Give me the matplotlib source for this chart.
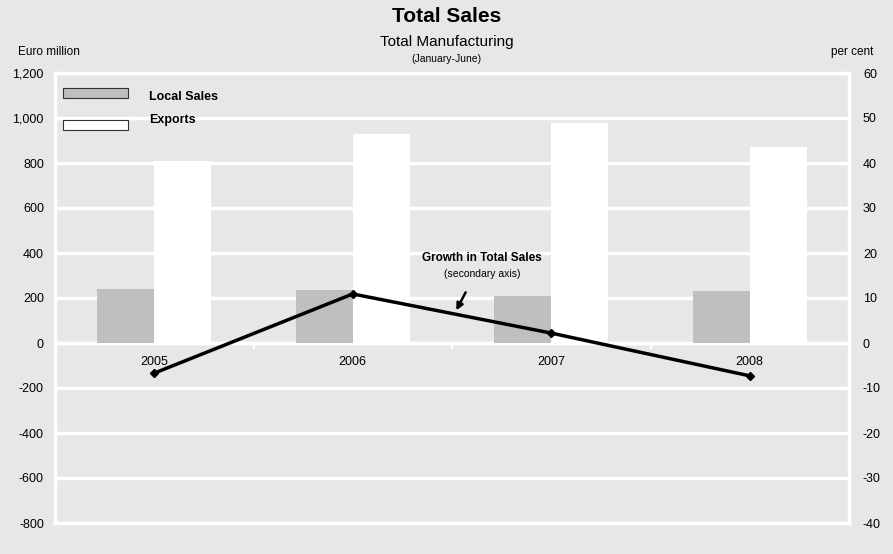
import matplotlib.pyplot as plt
import numpy as np
from matplotlib.ticker import FuncFormatter

plt.rcParams['font.family'] = ['Liberation Sans', 'DejaVu Sans']
plt.rcParams['axes.unicode_minus'] = False

years = ['2005', '2006', '2007', '2008']
local_sales = [240, 235, 209, 231]
exports = [809, 929, 978, 871]
growth = [-6.7, 10.9, 2.2, -7.3]

bg = '#e6e7e9'
fig = plt.figure(figsize=(8.93, 5.54), dpi=100, facecolor=bg)
ax = fig.add_axes([55 / 893, 1 - 523 / 554, 794 / 893, 450 / 554], facecolor=bg)

x = np.arange(len(years))
w = 0.287
ax.bar(x - w / 2, local_sales, w, color='#bfbfbf', zorder=3)
ax.bar(x + w / 2, exports, w, color='white', zorder=3)

ax.set_xlim(-0.5, len(years) - 0.5)
ax.set_ylim(-800, 1200)
ax.set_yticks(range(-800, 1201, 200))
ax.yaxis.set_major_formatter(FuncFormatter(lambda v, p: f'{int(v):,}'))
ax.grid(axis='y', color='white', linewidth=2.5, zorder=1)
ax.set_xticks([])
for s in ax.spines.values():
    s.set_color('white')
    s.set_linewidth(2.5)
ax.tick_params(axis='y', length=0, labelsize=9, pad=8)

# category axis at zero with boundary ticks
ax.axhline(0, color='white', linewidth=2.5, zorder=2)
for b in np.arange(0.5, len(years) - 1, 1):
    ax.plot([b, b], [0, -20], color='white', linewidth=1.5, zorder=2)
for i, yr in enumerate(years):
    ax.text(i, -84, yr, ha='center', va='center', fontsize=9, zorder=6)

# growth on secondary axis
ax2 = ax.twinx()
ax2.set_ylim(-40, 60)
ax2.set_yticks(range(-40, 61, 10))
ax2.plot(x, growth, color='black', linewidth=2.5, marker='D', markersize=4, zorder=5)
for s in ax2.spines.values():
    s.set_visible(False)
ax2.tick_params(axis='y', length=0, labelsize=9, pad=10)

ax2.text(1.65, 18.9, 'Growth in Total Sales', ha='center', va='center',
         fontsize=8.5, fontweight='bold')
ax2.text(1.65, 15.3, '(secondary axis)', ha='center', va='center', fontsize=7.5)
ax2.annotate('', xy=(1.515, 6.7), xytext=(1.575, 11.8),
             arrowprops=dict(arrowstyle='-|>', color='black', lw=1.8, mutation_scale=10))

# legend boxes
fig.patches.append(plt.Rectangle((63 / 893, 1 - 98 / 554), 65 / 893, 10 / 554,
                                 transform=fig.transFigure, facecolor='#bfbfbf',
                                 edgecolor='#333333', linewidth=0.8, zorder=10))
fig.patches.append(plt.Rectangle((63 / 893, 1 - 130 / 554), 65 / 893, 10 / 554,
                                 transform=fig.transFigure, facecolor='white',
                                 edgecolor='#333333', linewidth=0.8, zorder=10))
fig.text(149 / 893, 1 - 97 / 554, 'Local Sales', fontsize=9, fontweight='bold', va='center')
fig.text(149 / 893, 1 - 120 / 554, 'Exports', fontsize=9, fontweight='bold', va='center')

fig.text(0.5, 1 - 17 / 554, 'Total Sales', ha='center', va='center', fontsize=15, fontweight='bold')
fig.text(0.5, 1 - 42 / 554, 'Total Manufacturing', ha='center', va='center', fontsize=11)
fig.text(0.5, 1 - 59 / 554, '(January-June)', ha='center', va='center', fontsize=7.5)
fig.text(18 / 893, 1 - 52 / 554, 'Euro million', va='center', fontsize=8.5)
fig.text(873 / 893, 1 - 52 / 554, 'per cent', ha='right', va='center', fontsize=8.5)

fig.savefig('out.png', dpi=100, facecolor=bg)
